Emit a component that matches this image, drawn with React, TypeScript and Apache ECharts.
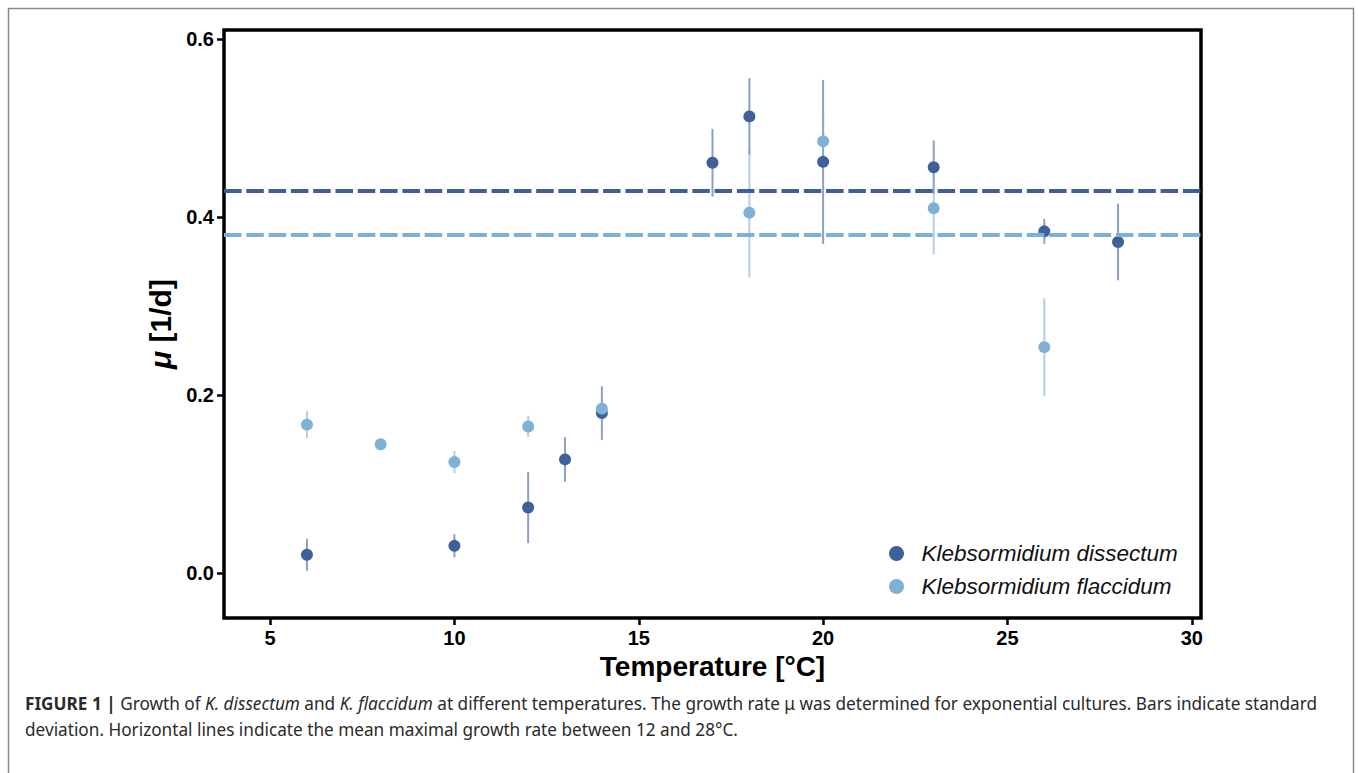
import React, { useEffect, useRef } from "react";
import * as echarts from "echarts";

// ---- data ----
const dissTemps = [6, 10, 12, 13, 14, 17, 18, 20, 23, 26, 28];
const dissMu = [0.021, 0.031, 0.074, 0.128, 0.18, 0.461, 0.513, 0.462, 0.456, 0.384, 0.372];
const dissSd = [0.018, 0.013, 0.04, 0.025, 0.03, 0.038, 0.043, 0.092, 0.03, 0.014, 0.043];

const flaccTemps = [6, 8, 10, 12, 14, 18, 20, 23, 26];
const flaccMu = [0.167, 0.145, 0.125, 0.165, 0.185, 0.405, 0.485, 0.41, 0.254];
const flaccSd = [0.015, 0.004, 0.0125, 0.012, 0.015, 0.073, 0.031, 0.052, 0.055];

const dissMean = 0.429;
const flaccMean = 0.375;

const xTicks = [5, 10, 15, 20, 25, 30];
const yTicks = [0, 0.2, 0.4, 0.6];

const seriesNames = ["Klebsormidium dissectum", "Klebsormidium flaccidum"];
const captionLine1 =
  "{b|FIGURE 1 |} Growth of {i|K. dissectum} and {i|K. flaccidum} at different temperatures. The growth rate μ was determined for exponential cultures. Bars indicate standard";
const captionLine2 =
  "deviation. Horizontal lines indicate the mean maximal growth rate between 12 and 28°C.";

const DARK = "#40609A";
const LIGHT = "#7FB1D4";
const FONT = "Liberation Sans, Arial, Helvetica, sans-serif";
const CAPFONT = "Noto Sans, Liberation Sans, sans-serif";
const CAPSIZE = 17.2;

function errBarSeries(name: string, temps: number[], mu: number[], sd: number[], color: string, z: number) {
  return {
    type: "custom",
    name,
    z,
    clip: true,
    silent: true,
    encode: { x: 0, y: [1, 2] },
    data: temps.map((t, i) => [t, mu[i] - sd[i], mu[i] + sd[i]]),
    renderItem: (params: any, api: any) => {
      const x = api.value(0);
      const lo = api.coord([x, api.value(1)]);
      const hi = api.coord([x, api.value(2)]);
      return {
        type: "line",
        shape: { x1: lo[0], y1: lo[1], x2: hi[0], y2: hi[1] },
        style: { stroke: color, lineWidth: 2, opacity: 0.6 },
      };
    },
  };
}

export default function App() {
  const ref = useRef<HTMLDivElement>(null);

  useEffect(() => {
    if (!ref.current) return;
    const chart = echarts.init(ref.current, undefined, { renderer: "svg" });
    const option: any = {
      animation: false,
      backgroundColor: "#ffffff",
      grid: {
        left: 224,
        top: 30,
        right: 157,
        bottom: 155,
        show: true,
        borderColor: "#000",
        borderWidth: 3.5,
        backgroundColor: "transparent",
      },
      xAxis: {
        type: "value",
        min: 3.75,
        max: 30.25,
        name: "Temperature [°C]",
        nameLocation: "middle",
        nameGap: 30,
        nameTextStyle: { fontFamily: FONT, fontSize: 28, fontWeight: "bold", color: "#000" },
        axisLine: { show: false, onZero: false },
        splitLine: { show: false },
        axisTick: {
          show: true,
          length: 7,
          customValues: xTicks,
          lineStyle: { color: "#000", width: 2.5 },
        },
        axisLabel: {
          customValues: xTicks,
          margin: 10,
          fontFamily: FONT,
          fontSize: 20,
          fontWeight: "bold",
          color: "#000",
        },
      },
      yAxis: {
        type: "value",
        min: -0.05,
        max: 0.61,
        name: "{i|μ} [1/d]",
        nameLocation: "middle",
        nameGap: 40,
        nameTextStyle: {
          fontFamily: FONT,
          fontSize: 30,
          fontWeight: "bold",
          color: "#000",
          rich: {
            i: { fontFamily: FONT, fontSize: 30, fontWeight: "bold", fontStyle: "italic", color: "#000" },
          },
        },
        axisLine: { show: false, onZero: false },
        splitLine: { show: false },
        axisTick: {
          show: true,
          length: 7,
          customValues: yTicks,
          lineStyle: { color: "#000", width: 2.5 },
        },
        axisLabel: {
          customValues: yTicks,
          margin: 10,
          fontFamily: FONT,
          fontSize: 20,
          fontWeight: "bold",
          color: "#000",
          formatter: (v: number) => v.toFixed(1),
        },
      },
      legend: {
        data: seriesNames,
        orient: "vertical",
        left: 884,
        top: 537,
        itemWidth: 40,
        itemHeight: 15,
        itemGap: 10,
        icon: "circle",
        textStyle: { fontFamily: FONT, fontSize: 22.5, fontStyle: "italic", color: "#111" },
      },
      series: [
        {
          type: "line",
          name: "means",
          data: [],
          z: 1,
          silent: true,
          markLine: {
            silent: true,
            symbol: ["none", "none"],
            label: { show: false },
            data: [
              { yAxis: dissMean, lineStyle: { color: "#3E5F94", width: 4, type: [17.5, 4.8] } },
              { yAxis: flaccMean, lineStyle: { color: "#7EB0D3", width: 4, type: [17.5, 4.8] } },
            ],
          },
        },
        errBarSeries("dissErr", dissTemps, dissMu, dissSd, DARK, 2),
        errBarSeries("flaccErr", flaccTemps, flaccMu, flaccSd, LIGHT, 3),
        {
          type: "scatter",
          name: seriesNames[0],
          z: 4,
          symbol: "circle",
          symbolSize: 12,
          itemStyle: { color: DARK, opacity: 1 },
          data: dissTemps.map((t, i) => [t, dissMu[i]]),
        },
        {
          type: "scatter",
          name: seriesNames[1],
          z: 5,
          symbol: "circle",
          symbolSize: 12,
          itemStyle: { color: LIGHT, opacity: 1 },
          data: flaccTemps.map((t, i) => [t, flaccMu[i]]),
        },
      ],
      graphic: [
        {
          type: "rect",
          silent: true,
          shape: { x: 8.5, y: 8.5, width: 1345, height: 800 },
          style: { fill: "none", stroke: "#8a8a8a", lineWidth: 1.5 },
        },
        {
          type: "text",
          left: 25,
          top: 690,
          silent: true,
          style: {
            text: captionLine1 + "\n" + captionLine2,
            fontFamily: CAPFONT,
            fontSize: CAPSIZE,
            lineHeight: 26,
            fill: "#2a2a2a",
            rich: {
              b: { fontFamily: CAPFONT, fontSize: CAPSIZE, fontWeight: "bold", fill: "#2a2a2a", lineHeight: 26 },
              i: { fontFamily: CAPFONT, fontSize: CAPSIZE, fontStyle: "italic", fill: "#2a2a2a", lineHeight: 26 },
            },
          },
        },
      ],
    };
    chart.setOption(option);
    return () => chart.dispose();
  }, []);

  return (
    <div
      ref={ref}
      style={{ position: "fixed", left: 0, top: 0, width: 1358, height: 773, background: "#fff" }}
    />
  );
}
